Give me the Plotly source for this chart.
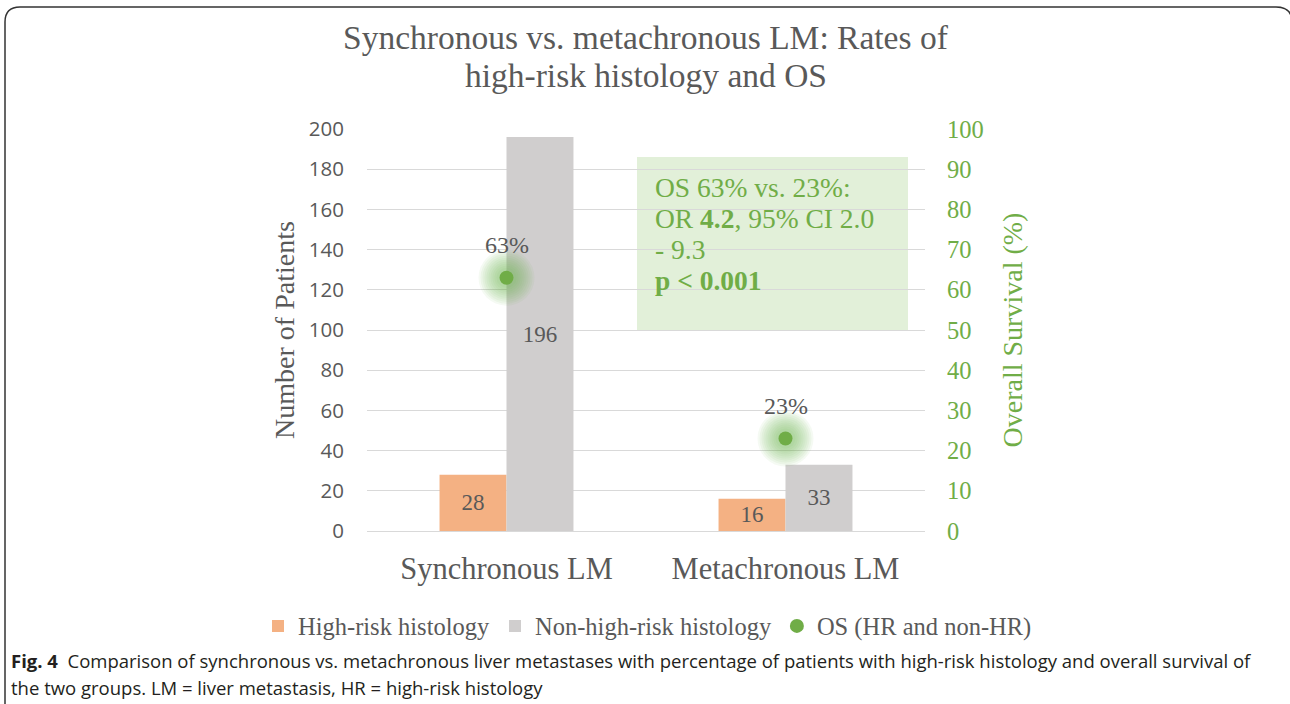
import plotly.graph_objects as go

categories = ["Synchronous LM", "Metachronous LM"]
high_risk = [28, 16]
non_high_risk = [196, 33]
os_pct = [63, 23]
y_left_ticks = [0, 20, 40, 60, 80, 100, 120, 140, 160, 180, 200]
y_right_ticks = [0, 10, 20, 30, 40, 50, 60, 70, 80, 90, 100]
title_lines = ["Synchronous vs. metachronous LM: Rates of", "high-risk histology and OS"]
box_lines = ["OS 63% vs. 23%:", "OR <b>4.2</b>, 95% CI 2.0", "- 9.3", "<b>p &lt; 0.001</b>"]
caption_lines = [
    "<b>Fig. 4</b>  Comparison of synchronous vs. metachronous liver metastases with percentage of patients "
    "with high-risk histology and overall survival of",
    "the two groups. LM = liver metastasis, HR = high-risk histology",
]

W, H = 1290, 704
L, R, T, B = 367, 925, 129, 531
GREEN = "#70AD47"
GREY_TXT = "#595959"
SERIF = "Liberation Serif"


def px(x):
    return (x - L) / (R - L)


def py(y):
    return (B - y) / (B - T)


fig = go.Figure()
fig.add_trace(go.Bar(
    x=categories, y=high_risk, name="High-risk histology",
    marker=dict(color="#F4B183", line=dict(width=0)),
    text=[str(v) for v in high_risk], textposition="inside", textangle=0,
    insidetextanchor="middle",
    textfont=dict(family=SERIF, size=23, color=GREY_TXT),
    yaxis="y", offsetgroup="a",
))
fig.add_trace(go.Bar(
    x=categories, y=non_high_risk, name="Non-high-risk histology",
    marker=dict(color="#D0CECE", line=dict(width=0)),
    text=[str(v) for v in non_high_risk], textposition="inside", textangle=0,
    insidetextanchor="middle",
    textfont=dict(family=SERIF, size=23, color=GREY_TXT),
    yaxis="y", offsetgroup="b",
))
# soft glow layers
glow_sizes = [56, 52, 48, 44, 40, 36, 32, 28, 24, 20]
for s in glow_sizes:
    fig.add_trace(go.Scatter(
        x=categories, y=os_pct, mode="markers", yaxis="y2",
        marker=dict(size=s, color=GREEN, opacity=0.065, line=dict(width=0)),
        showlegend=False, hoverinfo="skip",
    ))
fig.add_trace(go.Scatter(
    x=categories, y=os_pct, mode="markers", yaxis="y2",
    name="OS (HR and non-HR)",
    marker=dict(size=14, color=GREEN, line=dict(width=0)),
))

for c, v in zip(categories, os_pct):
    fig.add_annotation(x=c, y=v, yref="y2", text=f"{v}%", showarrow=False,
                       yshift=33, font=dict(family=SERIF, size=24, color=GREY_TXT))

# OR box
fig.add_shape(type="rect", xref="paper", yref="paper",
              x0=px(637), x1=px(908), y0=py(330), y1=py(157),
              fillcolor="#E2F0D9", line=dict(width=0), layer="below")
for i, t in enumerate(box_lines):
    fig.add_annotation(
        xref="paper", yref="paper", x=px(653), y=py(187 + 31 * i), xanchor="left",
        yanchor="middle", align="left", showarrow=False, text=t,
        font=dict(family=SERIF, size=27.5, color=GREEN),
    )

# title lines
for i, t in enumerate(title_lines):
    fig.add_annotation(
        xref="paper", yref="paper", x=px(646), y=py(38 + 37 * i), xanchor="center",
        yanchor="middle", showarrow=False, text=t,
        font=dict(family=SERIF, size=33.5, color=GREY_TXT),
    )

# frame border
path = (f"M {px(5)},{py(710)} L {px(5)},{py(22)} Q {px(5)},{py(7)} {px(20)},{py(7)} "
        f"L {px(1276)},{py(7)} Q {px(1292)},{py(7)} {px(1292)},{py(22)} L {px(1292)},{py(710)}")
fig.add_shape(type="path", path=path, xref="paper", yref="paper",
              line=dict(color="#333333", width=1.5))

# caption
for i, t in enumerate(caption_lines):
    fig.add_annotation(
        xref="paper", yref="paper", x=px(9), y=py(660 + 27 * i), xanchor="left",
        yanchor="middle", align="left", showarrow=False, text=t,
        font=dict(family="Open Sans", size=18.5, color="#231F20"),
    )

fig.update_layout(
    width=W, height=H,
    margin=dict(l=L, r=W - R, t=T, b=H - B),
    paper_bgcolor="white", plot_bgcolor="white",
    barmode="group", bargap=0.52, bargroupgap=0,
    xaxis=dict(showgrid=False, showline=True, linecolor="#D9D9D9", linewidth=1,
               tickfont=dict(family=SERIF, size=30.5, color=GREY_TXT), ticks="",
               ticklabelstandoff=10),
    yaxis=dict(range=[0, 200], tickvals=y_left_ticks, showgrid=True, gridcolor="#D9D9D9",
               zeroline=False, tickfont=dict(family="Open Sans", size=20.5, color=GREY_TXT),
               ticklabelstandoff=22,
               title=dict(text="Number of Patients", standoff=6,
                          font=dict(family=SERIF, size=28, color=GREY_TXT))),
    yaxis2=dict(range=[0, 100], tickvals=y_right_ticks, overlaying="y", side="right",
                showgrid=False, zeroline=False,
                tickfont=dict(family=SERIF, size=24.5, color=GREEN),
                ticklabelstandoff=21,
                title=dict(text="Overall Survival (%)", standoff=19,
                           font=dict(family=SERIF, size=28, color=GREEN))),
    legend=dict(orientation="h", xref="paper", x=px(258), xanchor="left",
                yref="paper", y=py(626), yanchor="middle",
                font=dict(family=SERIF, size=24.5, color=GREY_TXT),
                itemwidth=30, tracegroupgap=0, bgcolor="rgba(0,0,0,0)"),
    uniformtext=dict(minsize=23, mode="show"),
    showlegend=True,
)

fig.write_html("out.html", post_script="document.body.style.margin='0';",
               config={"displayModeBar": False})
